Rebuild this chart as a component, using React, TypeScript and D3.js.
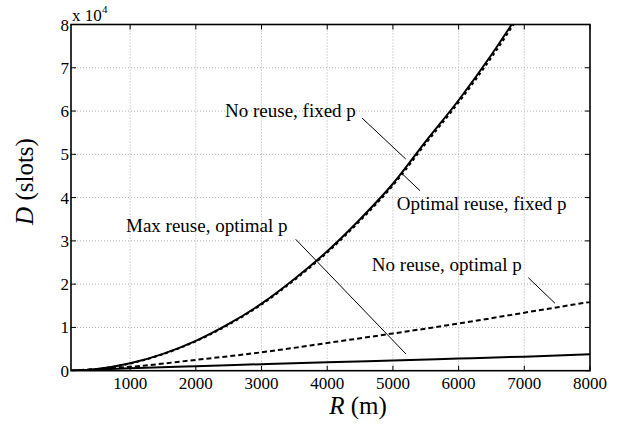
import React from "react";
import * as d3 from "d3";

const rFixed = [100, 500, 1000, 1500, 2000, 2500, 3000, 3500, 4000, 4500, 5000, 5500, 6000, 6500, 7000];
const noReuseFixedP = [0, 400, 1700, 3900, 6900, 10800, 15500, 21200, 27600, 35000, 43200, 53000, 62500, 73000, 84500];
const optimalReuseFixedP = [0, 380, 1650, 3820, 6800, 10650, 15300, 20950, 27300, 34650, 42800, 52500, 62000, 72400, 83800];

const rOpt = [100, 500, 1000, 2000, 3000, 4000, 5000, 6000, 7000, 8000];
const noReuseOptimalP = [0, 400, 900, 2500, 4250, 6400, 8600, 10900, 13400, 15900];
const maxReuseOptimalP = [0, 250, 550, 1050, 1500, 1950, 2350, 2800, 3250, 3800];

const xTicks = [1000, 2000, 3000, 4000, 5000, 6000, 7000, 8000];
const yTicks = [0, 10000, 20000, 30000, 40000, 50000, 60000, 70000, 80000];
const yTickLabels = ["0", "1", "2", "3", "4", "5", "6", "7", "8"];

const W = 624, H = 424;
const L = 71, R = 590, T = 24.5, B = 370.7;
const FONT = '"Liberation Serif", "DejaVu Serif", serif';

export default function App() {
  const x = d3.scaleLinear().domain([100, 8000]).range([L, R]);
  const y = d3.scaleLinear().domain([0, 80000]).range([B, T]);
  const line = (xs: number[], ys: number[]) =>
    d3.line<number>().x((_, i) => x(xs[i])).y((d) => y(d)).curve(d3.curveMonotoneX)(ys) || "";

  const tickLen = 5;
  const txt = (size: number) => ({ fontFamily: FONT, fontSize: size + "px" });
  return (
    <svg width={W} height={H} style={{ position: "absolute", left: 0, top: 0, background: "#fff" }}>
      <defs>
        <clipPath id="plot">
          <rect x={L} y={T} width={R - L} height={B - T} />
        </clipPath>
      </defs>
      <rect x={0} y={0} width={W} height={H} fill="#fff" />
      {xTicks.filter((t) => t < 8000).map((t) => (
        <line key={"gx" + t} x1={x(t)} x2={x(t)} y1={T} y2={B} stroke="#b0b0b0" strokeWidth={1} strokeDasharray="1,2" />
      ))}
      {yTicks.filter((t) => t > 0 && t < 80000).map((t) => (
        <line key={"gy" + t} x1={L} x2={R} y1={y(t)} y2={y(t)} stroke="#b0b0b0" strokeWidth={1} strokeDasharray="1,2" />
      ))}
      <g clipPath="url(#plot)" fill="none" stroke="#000">
        <path d={line(rOpt, maxReuseOptimalP)} strokeWidth={2} />
        <path d={line(rOpt, noReuseOptimalP)} strokeWidth={2} strokeDasharray="5,3" />
        <path d={line(rFixed, noReuseFixedP)} strokeWidth={2} />
        <path d={line(rFixed, optimalReuseFixedP)} strokeWidth={2} strokeDasharray="3,3" />
      </g>
      {xTicks.map((t) => (
        <g key={"tx" + t}>
          <line x1={x(t)} x2={x(t)} y1={B} y2={B - tickLen} stroke="#000" strokeWidth={1} />
          <line x1={x(t)} x2={x(t)} y1={T} y2={T + tickLen} stroke="#000" strokeWidth={1} />
          <text x={x(t)} y={B + 18} textAnchor="middle" style={txt(17)}>{t}</text>
        </g>
      ))}
      {yTicks.map((t, i) => (
        <g key={"ty" + t}>
          <line x1={L} x2={L + tickLen} y1={y(t)} y2={y(t)} stroke="#000" strokeWidth={1} />
          <line x1={R} x2={R - tickLen} y1={y(t)} y2={y(t)} stroke="#000" strokeWidth={1} />
          <text x={L - 2} y={y(t) + 6} textAnchor="end" style={txt(17)}>{yTickLabels[i]}</text>
        </g>
      ))}
      <rect x={L} y={T} width={R - L} height={B - T} fill="none" stroke="#000" strokeWidth={1.6} />
      <text x={72} y={21} style={txt(17)}>x 10</text>
      <text x={102} y={13} style={txt(11)}>4</text>
      <text x={358} y={414} textAnchor="middle" style={txt(25)}>
        <tspan fontStyle="italic">R</tspan> (m)
      </text>
      <text transform="translate(33,181.5) rotate(-90)" textAnchor="middle" style={txt(25)}>
        <tspan fontStyle="italic">D</tspan> (slots)
      </text>
      <g stroke="#000" strokeWidth={1}>
        <line x1={362} y1={118} x2={405.7} y2={159} />
        <line x1={401.7} y1={173.3} x2={420} y2={190.7} />
        <line x1={295.7} y1={239.3} x2={406} y2={354} />
        <line x1={528.3} y1={277.7} x2={555} y2={303.3} />
      </g>
      <g style={txt(19)}>
        <text x={225} y={116.7}>No reuse, fixed p</text>
        <text x={396.7} y={210}>Optimal reuse, fixed p</text>
        <text x={126} y={232}>Max reuse, optimal p</text>
        <text x={521.7} y={271} textAnchor="end">No reuse, optimal p</text>
      </g>
    </svg>
  );
}
